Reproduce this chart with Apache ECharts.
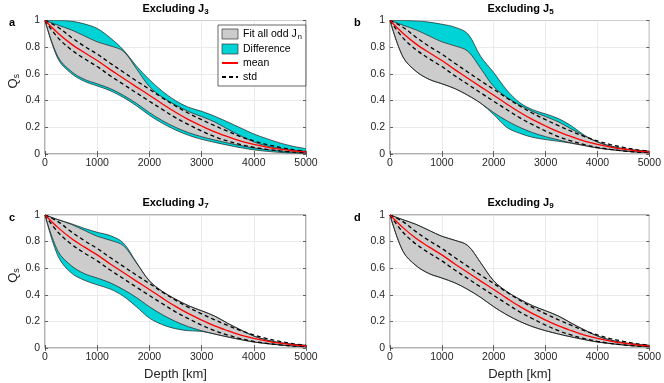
<!DOCTYPE html>
<html>
<head>
<meta charset="utf-8">
<script src="https://cdn.jsdelivr.net/npm/echarts@6/dist/echarts.min.js"></script>
<style>
html, body { margin: 0; padding: 0; background: #fff; }
#chart { width: 664px; height: 383px; }
</style>
</head>
<body>
<div id="chart"></div>
<script>
// depth grid [km]
var depth = [0, 250, 500, 750, 1000, 1250, 1500, 1750, 2000, 2250, 2500, 2750, 3000, 3250, 3500, 3750, 4000, 4250, 4500, 4750, 5000];

// fit with all odd Jn (same in every panel)
var fitUpper = [1.0, 0.965, 0.93, 0.885, 0.84, 0.81, 0.77, 0.64, 0.505, 0.425, 0.367, 0.318, 0.28, 0.24, 0.186, 0.136, 0.09, 0.06, 0.04, 0.028, 0.02];
var fitLower = [1.0, 0.727, 0.62, 0.56, 0.526, 0.49, 0.44, 0.38, 0.31, 0.25, 0.2, 0.16, 0.13, 0.105, 0.083, 0.063, 0.045, 0.033, 0.023, 0.015, 0.01];
var meanQ = [1.0, 0.905, 0.825, 0.76, 0.70, 0.632, 0.568, 0.503, 0.44, 0.375, 0.313, 0.258, 0.21, 0.166, 0.13, 0.097, 0.072, 0.052, 0.036, 0.024, 0.015];
var stdUpper = [1.0, 0.95, 0.875, 0.808, 0.748, 0.68, 0.614, 0.548, 0.485, 0.42, 0.36, 0.305, 0.257, 0.212, 0.17, 0.13, 0.098, 0.071, 0.05, 0.033, 0.02];
var stdLower = [1.0, 0.87, 0.782, 0.715, 0.655, 0.586, 0.522, 0.458, 0.395, 0.333, 0.272, 0.22, 0.172, 0.13, 0.097, 0.07, 0.05, 0.035, 0.023, 0.015, 0.01];

// envelopes when one Jn is left out
var exclUpperJ3 = [1.0, 1.0, 0.995, 0.975, 0.94, 0.87, 0.78, 0.66, 0.557, 0.47, 0.40, 0.35, 0.32, 0.283, 0.24, 0.195, 0.15, 0.115, 0.083, 0.058, 0.04];
var exclLowerJ3 = [1.0, 0.712, 0.605, 0.545, 0.51, 0.474, 0.424, 0.362, 0.29, 0.23, 0.18, 0.14, 0.11, 0.087, 0.066, 0.047, 0.031, 0.02, 0.012, 0.007, 0.004];
var exclUpperJ5 = [1.0, 1.0, 0.997, 0.988, 0.972, 0.95, 0.9, 0.73, 0.61, 0.48, 0.385, 0.332, 0.3, 0.265, 0.21, 0.14, 0.09, 0.06, 0.04, 0.028, 0.02];
var exclLowerJ5 = [1.0, 0.727, 0.62, 0.56, 0.526, 0.49, 0.44, 0.38, 0.295, 0.2, 0.155, 0.125, 0.108, 0.095, 0.08, 0.063, 0.045, 0.033, 0.023, 0.015, 0.01];
var exclUpperJ7 = [1.0, 0.965, 0.935, 0.9, 0.87, 0.845, 0.79, 0.645, 0.505, 0.425, 0.367, 0.318, 0.28, 0.24, 0.186, 0.136, 0.09, 0.06, 0.04, 0.028, 0.02];
var exclLowerJ7 = [1.0, 0.69, 0.565, 0.51, 0.475, 0.443, 0.39, 0.31, 0.225, 0.175, 0.145, 0.13, 0.125, 0.105, 0.083, 0.063, 0.045, 0.033, 0.023, 0.015, 0.01];
var exclUpperJ9 = [1.0, 0.965, 0.93, 0.885, 0.84, 0.81, 0.77, 0.64, 0.505, 0.425, 0.367, 0.318, 0.28, 0.24, 0.186, 0.136, 0.09, 0.06, 0.04, 0.028, 0.02];
var exclLowerJ9 = [1.0, 0.727, 0.62, 0.56, 0.526, 0.49, 0.44, 0.38, 0.31, 0.25, 0.2, 0.16, 0.13, 0.105, 0.083, 0.063, 0.045, 0.033, 0.023, 0.015, 0.01];

var excludedJ = ['3', '5', '7', '9'];
var panelLetters = ['a', 'b', 'c', 'd'];

var chart = echarts.init(document.getElementById('chart'));

var grids = [
	{left: 45, top: 20.5, width: 261, height: 133.5},
	{left: 390, top: 20.5, width: 261, height: 133.5},
	{left: 45, top: 215, width: 261, height: 133},
	{left: 390, top: 215, width: 261, height: 133}
];
var exclUpper = [exclUpperJ3, exclUpperJ5, exclUpperJ7, exclUpperJ9];
var exclLower = [exclLowerJ3, exclLowerJ5, exclLowerJ7, exclLowerJ9];

var edgeColor = '#1f1f1f';
var grayFill = '#cccccc';
var cyanFill = '#00d3d6';
var tickStyle = {color: '#262626', width: 0.7};

function diff(a, b) {
	var out = [];
	for (var i = 0; i < a.length; i++) out.push(+(a[i] - b[i]).toFixed(4));
	return out;
}

var xAxes = [], yAxes = [], series = [], titles = [];

for (var p = 0; p < 4; p++) {
	var g = grids[p];
	g.show = true;
	g.borderColor = '#262626';
	g.borderWidth = 0.7;
	g.backgroundColor = '#fff';

	xAxes.push({
		gridIndex: p,
		type: 'category',
		boundaryGap: false,
		data: depth.map(String),
		axisLine: {show: false},
		axisTick: {show: true, inside: true, interval: 3, length: 3, lineStyle: tickStyle},
		axisLabel: {interval: 3, color: '#262626', fontSize: 10.5, margin: 4, fontFamily: 'Liberation Sans'},
		splitLine: {show: true, interval: 3, lineStyle: {color: '#e6e6e6', width: 0.8}},
		name: p >= 2 ? 'Depth [km]' : '',
		nameLocation: 'middle',
		nameGap: 20,
		nameTextStyle: {fontSize: 13, color: '#262626', fontFamily: 'Liberation Sans'}
	});
	yAxes.push({
		gridIndex: p,
		type: 'value',
		min: 0,
		max: 1,
		interval: 0.2,
		axisLine: {show: false},
		axisTick: {show: true, inside: true, length: 3, lineStyle: tickStyle},
		axisLabel: {color: '#262626', fontSize: 10.5, margin: 5, fontFamily: 'Liberation Sans'},
		splitLine: {show: true, lineStyle: {color: '#e6e6e6', width: 0.8}},
		name: (p % 2 === 0) ? '{q|Q}{s|s}' : '',
		nameLocation: 'middle',
		nameRotate: 90,
		nameGap: 22,
		nameTextStyle: {
			color: '#262626',
			fontFamily: 'Liberation Sans',
			padding: [0, 0, 0, 12],
			rich: {
				q: {fontSize: 13, color: '#262626', fontFamily: 'Liberation Sans'},
				s: {fontSize: 9, color: '#262626', fontFamily: 'Liberation Sans', padding: [7, 0, 0, 0]}
			}
		}
	});

	// band of the excluded-Jn fit (cyan), gray band drawn over it
	series.push({
		type: 'line', xAxisIndex: p, yAxisIndex: p, stack: 'ex' + p,
		data: exclLower[p], smooth: 0.35, symbol: 'none', z: 3,
		lineStyle: {color: edgeColor, width: 0.7}, silent: true
	});
	series.push({
		name: 'Difference',
		type: 'line', xAxisIndex: p, yAxisIndex: p, stack: 'ex' + p,
		data: diff(exclUpper[p], exclLower[p]), smooth: 0.35, symbol: 'none', z: 2,
		itemStyle: {color: cyanFill},
		lineStyle: {color: edgeColor, width: 0.7},
		areaStyle: {color: cyanFill, opacity: 1}
	});
	series.push({
		type: 'line', xAxisIndex: p, yAxisIndex: p, stack: 'fit' + p,
		data: fitLower, smooth: 0.35, symbol: 'none', z: 3,
		lineStyle: {color: edgeColor, width: 0.7}, silent: true
	});
	series.push({
		name: 'Fit all odd Jn',
		type: 'line', xAxisIndex: p, yAxisIndex: p, stack: 'fit' + p,
		data: diff(fitUpper, fitLower), smooth: 0.35, symbol: 'none', z: 2,
		itemStyle: {color: grayFill},
		lineStyle: {color: edgeColor, width: 0.7},
		areaStyle: {color: grayFill, opacity: 1}
	});
	series.push({
		name: 'std',
		type: 'line', xAxisIndex: p, yAxisIndex: p,
		data: stdUpper, smooth: 0.35, symbol: 'none', z: 4,
		itemStyle: {color: '#000'},
		lineStyle: {color: '#000', width: 1.3, type: [4, 3]}
	});
	series.push({
		type: 'line', xAxisIndex: p, yAxisIndex: p,
		data: stdLower, smooth: 0.35, symbol: 'none', z: 4,
		lineStyle: {color: '#000', width: 1.3, type: [4, 3]}
	});
	series.push({
		name: 'mean',
		type: 'line', xAxisIndex: p, yAxisIndex: p,
		data: meanQ, smooth: 0.35, symbol: 'none', z: 5,
		itemStyle: {color: '#ff0000'},
		lineStyle: {color: '#ff0000', width: 1.3}
	});

	titles.push({
		text: '{t|Excluding J}{s|' + excludedJ[p] + '}',
		left: g.left + g.width / 2,
		top: g.top - 19,
		textAlign: 'center',
		padding: 0,
		textStyle: {
			rich: {
				t: {fontSize: 11, fontWeight: 'bold', color: '#000', fontFamily: 'Liberation Sans'},
				s: {fontSize: 8, fontWeight: 'bold', color: '#000', fontFamily: 'Liberation Sans', padding: [6, 0, 0, 0]}
			}
		}
	});
	titles.push({
		text: panelLetters[p],
		left: g.left - 36,
		top: g.top - 3,
		padding: 0,
		textStyle: {fontSize: 11, fontWeight: 'bold', color: '#000', fontFamily: 'Liberation Sans'}
	});
}

// box ticks on the top and right sides
for (var q = 0; q < 4; q++) {
	xAxes.push({
		gridIndex: q, type: 'category', position: 'top', boundaryGap: false,
		data: depth.map(String),
		axisLine: {show: false}, axisLabel: {show: false}, splitLine: {show: false},
		axisTick: {show: true, inside: true, interval: 3, length: 3, lineStyle: tickStyle}
	});
	yAxes.push({
		gridIndex: q, type: 'value', position: 'right', min: 0, max: 1, interval: 0.2,
		axisLine: {show: false}, axisLabel: {show: false}, splitLine: {show: false},
		axisTick: {show: true, inside: true, length: 3, lineStyle: tickStyle}
	});
}

var option = {
	animation: false,
	backgroundColor: '#fff',
	title: titles,
	grid: grids,
	xAxis: xAxes,
	yAxis: yAxes,
	legend: {
		orient: 'vertical',
		left: 218,
		top: 25,
		padding: [3, 4, 3, 3],
		itemWidth: 16,
		itemHeight: 10,
		itemGap: 2,
		backgroundColor: '#fff',
		borderColor: '#262626',
		borderWidth: 0.7,
		selectedMode: false,
		textStyle: {
			fontSize: 10.5, color: '#000', fontFamily: 'Liberation Sans', lineHeight: 12,
			rich: {
				t: {fontSize: 10.5, color: '#000', fontFamily: 'Liberation Sans'},
				s: {fontSize: 7.5, color: '#000', fontFamily: 'Liberation Sans', padding: [6, 0, 0, 1]}
			}
		},
		formatter: function(name) {
			if (name === 'Fit all odd Jn') return '{t|Fit all odd J}{s|n}';
			return name;
		},
		data: [
			{name: 'Fit all odd Jn', icon: 'rect', itemStyle: {color: grayFill, borderColor: '#333', borderWidth: 0.7}},
			{name: 'Difference', icon: 'rect', itemStyle: {color: cyanFill, borderColor: '#333', borderWidth: 0.7}},
			{name: 'mean', itemStyle: {opacity: 0}},
			{name: 'std', itemStyle: {opacity: 0}}
		]
	},
	series: series
};

chart.setOption(option);
</script>
</body>
</html>
